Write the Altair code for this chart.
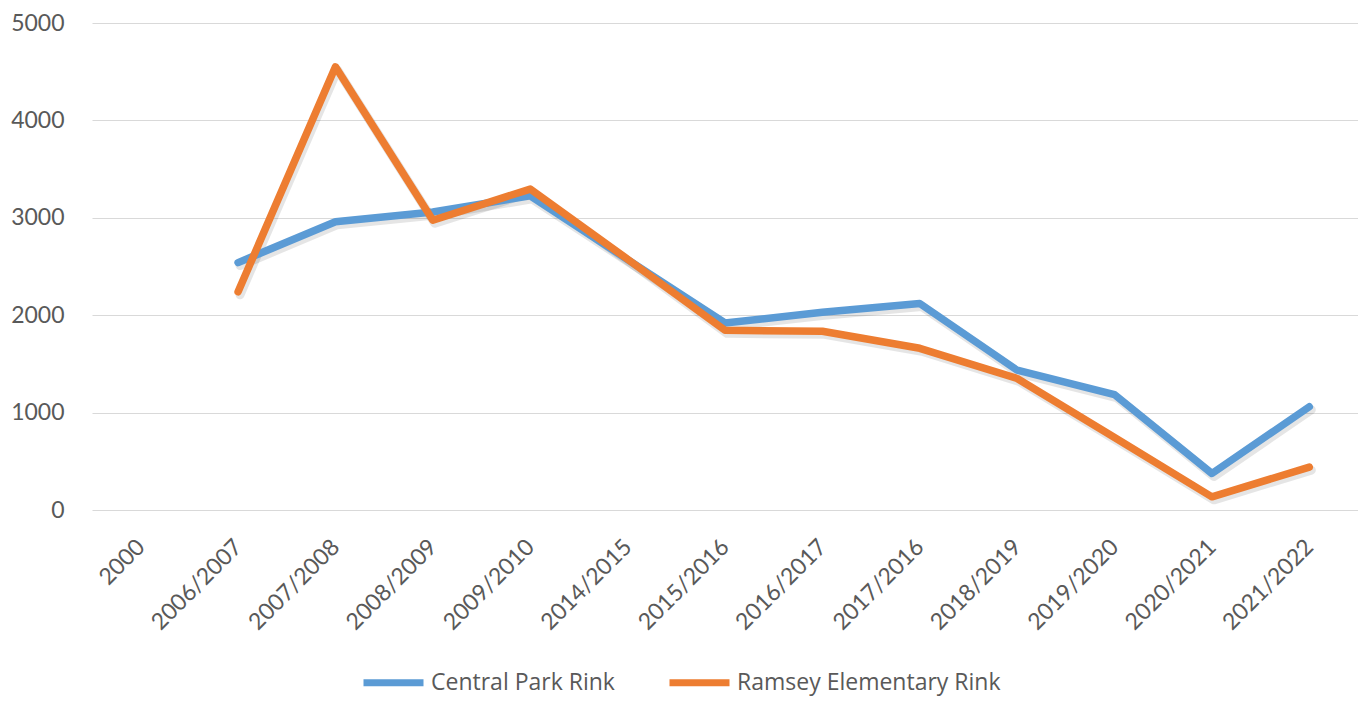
import altair as alt
import pandas as pd

seasons = ["2000", "2006/2007", "2007/2008", "2008/2009", "2009/2010", "2014/2015",
           "2015/2016", "2016/2017", "2017/2016", "2018/2019", "2019/2020",
           "2020/2021", "2021/2022"]
central_park = [None, 2540, 2960, 3060, 3225, 2570, 1920, 2030, 2120, 1435, 1185, 375, 1060]
ramsey = [None, 2240, 4550, 2975, 3295, 2575, 1845, 1835, 1660, 1350, 745, 135, 440]
series_names = ["Central Park Rink", "Ramsey Elementary Rink"]
series_colors = ["#5B9BD5", "#ED7D31"]
y_ticks = [0, 1000, 2000, 3000, 4000, 5000]

rows = []
for name, vals in zip(series_names, [central_park, ramsey]):
    for s, v in zip(seasons, vals):
        if v is not None:
            rows.append({"season": s, "rink": name, "visits": v})
df = pd.DataFrame(rows)

FONT = "Lato"
TXT = "#595959"

x = alt.X("season:N", sort=seasons,
          scale=alt.Scale(domain=seasons, type="point", padding=0.5),
          axis=alt.Axis(title=None, labelAngle=-45, labelAlign="right",
                        labelBaseline="middle", labelPadding=33, ticks=False,
                        domain=False, grid=False, labelFont=FONT,
                        labelFontSize=23, labelColor=TXT, labelOverlap=False))
y = alt.Y("visits:Q", scale=alt.Scale(domain=[0, 5000], nice=False),
          axis=alt.Axis(title=None, values=y_ticks, format="d", grid=True,
                        gridColor="#D9D9D9", gridWidth=1.2, ticks=False, domain=False,
                        labelPadding=28, labelFont=FONT, labelFontSize=23,
                        labelColor=TXT))

color = alt.Color("rink:N",
                  scale=alt.Scale(domain=series_names, range=series_colors),
                  legend=alt.Legend(title=None, orient="none", legendX=268, legendY=626,
                                    direction="horizontal", symbolType="stroke",
                                    symbolSize=3600, symbolStrokeWidth=7,
                                    labelFont="Open Sans", labelFontSize=23,
                                    labelColor=TXT, labelLimit=400, columnPadding=40,
                                    labelOffset=4))

shadow = alt.Chart(df).mark_line(color="#000000", opacity=0.10, strokeWidth=9,
                                 xOffset=2, yOffset=3, strokeCap="round",
                                 strokeJoin="round").encode(x=x, y=y, detail="rink:N")

lines = alt.Chart(df).mark_line(strokeWidth=7.5, strokeCap="round",
                                strokeJoin="round").encode(x=x, y=y, color=color)

chart = alt.layer(shadow, lines).properties(
    width=1266, height=487,
    padding={"left": 84, "top": 15, "right": 0, "bottom": 186},
    autosize=alt.AutoSizeParams(type="none"),
    background="white",
).configure_view(stroke=None)

chart.save("out.html", embed_options={"renderer": "svg", "actions": False})
